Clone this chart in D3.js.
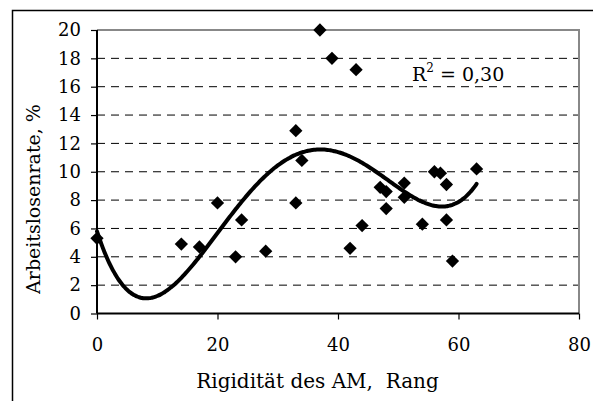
<!DOCTYPE html>
<html>
<head>
<meta charset="utf-8">
<script src="https://cdn.jsdelivr.net/npm/d3@7"></script>
<style>
  body { margin: 0; background: #fff; }
  text { font-family: "DejaVu Serif", serif; fill: #000; }
</style>
</head>
<body>
<div id="chart"></div>
<script>
// Rigidität des Arbeitsmarktes (Rang) vs. Arbeitslosenrate (%)
var rang = [0, 14, 17, 20, 23, 24, 28, 33, 33, 34, 37, 39, 43, 42, 44, 47, 48, 48, 51, 51, 54, 56, 57, 58, 58, 59, 63];
var rate = [5.3, 4.9, 4.7, 7.8, 4.0, 6.6, 4.4, 12.9, 7.8, 10.8, 20.0, 18.0, 17.2, 4.6, 6.2, 8.9, 8.6, 7.4, 9.2, 8.2, 6.3, 10.0, 9.9, 9.1, 6.6, 3.7, 10.2];
var xTicks = [0, 20, 40, 60, 80];
var yTicks = [0, 2, 4, 6, 8, 10, 12, 14, 16, 18, 20];
var gridVals = [2, 4, 6, 8, 10, 12, 14, 16, 18];
var trendOrder = 4;
var r2Label = "0,30";

var W = 593, H = 401;
var svg = d3.select("#chart").append("svg").attr("width", W).attr("height", H);

var x = d3.scaleLinear().domain([0, 80]).range([97, 579]);
var y = d3.scaleLinear().domain([0, 20]).range([313.5, 30]);

// outer frame (open to the right / bottom, cut by the picture)
svg.append("path")
  .attr("d", "M12.5," + (H + 2) + "V10.5H" + (W + 2))
  .attr("fill", "none").attr("stroke", "#000").attr("stroke-width", 1.5);

// gridlines
svg.append("g").selectAll("line").data(gridVals).join("line")
  .attr("x1", x(0)).attr("x2", x(80))
  .attr("y1", d => y(d)).attr("y2", d => y(d))
  .attr("stroke", "#000").attr("stroke-width", 1)
  .attr("stroke-dasharray", "8,6");

// plot border top/right (grey)
svg.append("path")
  .attr("d", "M" + x(0) + "," + y(20) + "H" + x(80) + "V" + y(0))
  .attr("fill", "none").attr("stroke", "#888").attr("stroke-width", 2);

// axes
var xAxis = d3.axisBottom(x).tickValues(xTicks).tickSize(6).tickPadding(19).tickFormat(d3.format("d"));
var gx = svg.append("g").attr("transform", "translate(0," + y(0) + ")").call(xAxis);
var yAxis = d3.axisLeft(y).tickValues(yTicks).tickSize(6).tickPadding(10).tickFormat(d3.format("d"));
var gy = svg.append("g").attr("transform", "translate(" + x(0) + ",0)").call(yAxis);
[gx, gy].forEach(function(g) {
  g.select(".domain").attr("stroke", "#000").attr("stroke-width", 2);
  g.selectAll(".tick line").attr("stroke", "#000").attr("stroke-width", 1.2);
  g.selectAll(".tick text").attr("font-family", "DejaVu Serif").attr("font-size", 18).attr("fill", "#000");
});
gx.select(".domain").attr("d", "M" + x(0) + ",0H" + x(80));
gy.select(".domain").attr("d", "M0," + y(0) + "V" + y(20));

// polynomial trend (least squares, order 4) on normalised x
function polyfit(xs, ys, n) {
  var s = 63;
  var m = n + 1, A = [], b = [];
  for (var i = 0; i < m; i++) { A.push(new Array(m).fill(0)); b.push(0); }
  xs.forEach(function(xv, k) {
    var t = xv / s;
    for (var i = 0; i < m; i++) {
      b[i] += ys[k] * Math.pow(t, i);
      for (var j = 0; j < m; j++) A[i][j] += Math.pow(t, i + j);
    }
  });
  for (var c = 0; c < m; c++) {
    var p = c;
    for (var r = c + 1; r < m; r++) if (Math.abs(A[r][c]) > Math.abs(A[p][c])) p = r;
    var tmp = A[c]; A[c] = A[p]; A[p] = tmp; var tb = b[c]; b[c] = b[p]; b[p] = tb;
    for (var r2 = c + 1; r2 < m; r2++) {
      var f = A[r2][c] / A[c][c];
      for (var j2 = c; j2 < m; j2++) A[r2][j2] -= f * A[c][j2];
      b[r2] -= f * b[c];
    }
  }
  var coef = new Array(m).fill(0);
  for (var i2 = m - 1; i2 >= 0; i2--) {
    var sum = b[i2];
    for (var j3 = i2 + 1; j3 < m; j3++) sum -= A[i2][j3] * coef[j3];
    coef[i2] = sum / A[i2][i2];
  }
  return function(xv) {
    var t = xv / s, v = 0;
    for (var i = 0; i < m; i++) v += coef[i] * Math.pow(t, i);
    return v;
  };
}
var trend = polyfit(rang, rate, trendOrder);
var xMax = d3.max(rang);
var tPts = d3.range(0, xMax + 0.001, 0.25).map(function(v) { return [v, trend(v)]; });
svg.append("path")
  .datum(tPts)
  .attr("d", d3.line().x(d => x(d[0])).y(d => y(d[1])).curve(d3.curveBasis))
  .attr("fill", "none").attr("stroke", "#000").attr("stroke-width", 4)
  .attr("stroke-linecap", "round");

// points
var diamond = d3.symbol().type(d3.symbolSquare).size(88);
svg.append("g").selectAll("path").data(rang.map((d, i) => [d, rate[i]])).join("path")
  .attr("d", diamond)
  .attr("transform", d => "translate(" + x(d[0]) + "," + y(d[1]) + ") rotate(45)")
  .attr("fill", "#000");

// R²
var r2 = svg.append("text").attr("x", 412).attr("y", 81).attr("font-size", 19);
r2.append("tspan").text("R");
r2.append("tspan").attr("font-size", 12).attr("dy", -9).text("2");
r2.append("tspan").attr("dy", 9).text(" = " + r2Label);

// axis titles
svg.append("text")
  .attr("x", 317.5).attr("y", 388).attr("text-anchor", "middle").attr("font-size", 20)
  .attr("xml:space", "preserve").style("white-space", "pre")
  .text("Rigidität des AM,  Rang");
svg.append("text")
  .attr("transform", "translate(40,199) rotate(-90)")
  .attr("text-anchor", "middle").attr("font-size", 19)
  .text("Arbeitslosenrate, %");
</script>
</body>
</html>
